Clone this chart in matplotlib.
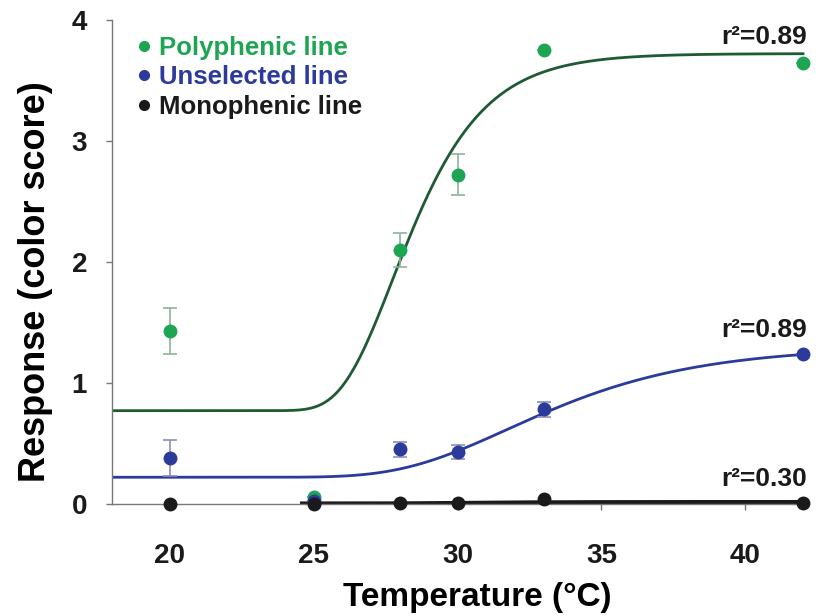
import numpy as np
import matplotlib
matplotlib.use("Agg")
import matplotlib.pyplot as plt
from matplotlib.lines import Line2D

plt.rcParams['font.family'] = ['Liberation Sans', 'DejaVu Sans']
plt.rcParams['font.weight'] = 'bold'

# measured points
temps = [20, 25, 28, 30, 33, 42]
poly = [1.43, 0.06, 2.10, 2.72, 3.75, 3.64]
poly_err = [0.19, 0.0, 0.14, 0.17, 0.0, 0.0]
unsel = [0.38, 0.02, 0.45, 0.43, 0.78, 1.24]
unsel_err = [0.15, 0.0, 0.06, 0.06, 0.06, 0.0]
mono = [0.0, 0.0, 0.01, 0.01, 0.04, 0.01]

# fitted curves (gompertz: base, amplitude, x0, k)
poly_fit = [0.77, 2.95, 27.75, 1.78]
unsel_fit = [0.22, 1.08, 31.75, 3.7]
mono_fit = [0.003, 0.012, 30.0, 2.0]
r2_labels = ['r²=0.89', 'r²=0.89', 'r²=0.30']
r2_offsets = [0.04, 0.1, 0.09]

green = '#1ea553'
green_line = '#1f5a35'
blue = '#2c3a9c'
black = '#1a1a1a'


def gompertz(x, p):
    a, b, x0, k = p
    return a + b * np.exp(-np.exp(-(x - x0) / k))


fig = plt.figure(figsize=(8.24, 6.16), dpi=100)
ax = fig.add_axes([0.136, 0.182, 0.842, 0.786])

xs = np.linspace(18, 42, 400)
xs2 = np.linspace(24.6, 42, 300)
ax.plot(xs, gompertz(xs, poly_fit), color=green_line, lw=2, zorder=2)
ax.plot(xs, gompertz(xs, unsel_fit), color=blue, lw=2, zorder=2)
ax.plot(xs2, gompertz(xs2, mono_fit), color=black, lw=3, zorder=2)

ax.errorbar(temps, poly, yerr=poly_err, fmt='o', color=green, ms=9,
            ecolor='#8fb49a', elinewidth=1.2, capsize=5, capthick=1.2,
            zorder=3, clip_on=False)
ax.errorbar(temps, unsel, yerr=unsel_err, fmt='o', color=blue, ms=9,
            ecolor='#8a8fb8', elinewidth=1.2, capsize=5, capthick=1.2,
            zorder=4, clip_on=False)
ax.plot(temps, mono, 'o', color=black, ms=9, zorder=5, clip_on=False)

# r2 labels at right end of each curve
for p, lab, off in zip([poly_fit, unsel_fit, mono_fit], r2_labels, r2_offsets):
    ax.text(42.15, gompertz(42, p) + off, lab, ha='right', va='bottom',
            fontsize=19, fontweight='bold', color=black)

ax.set_xlim(18, 42.1)
ax.set_ylim(0, 4)
ax.set_xticks([20, 25, 30, 35, 40])
ax.set_yticks([0, 1, 2, 3, 4])
for s in ['top', 'right']:
    ax.spines[s].set_visible(False)
for s in ['left', 'bottom']:
    ax.spines[s].set_color('#777777')
    ax.spines[s].set_linewidth(1)
ax.tick_params(axis='both', colors='#777777', length=4, width=1,
               labelsize=20, labelcolor=black)
ax.tick_params(axis='x', pad=24)
ax.tick_params(axis='y', pad=14)
for t in ax.get_xticklabels() + ax.get_yticklabels():
    t.set_fontweight('bold')

ax.set_xlabel('Temperature (°C)', fontsize=24, fontweight='bold')
ax.set_ylabel('Response (color score)', fontsize=26, fontweight='bold')
ax.xaxis.set_label_coords(0.526, -0.162)
ax.yaxis.set_label_coords(-0.085, 0.46)

handles = [Line2D([], [], ls='', marker='o', color=c, ms=7)
           for c in [green, blue, black]]
leg = ax.legend(handles, ['Polyphenic line', 'Unselected line', 'Monophenic line'],
                loc='upper left', bbox_to_anchor=(-0.006, 1.015), frameon=False,
                handletextpad=0.1, handlelength=1.0, labelspacing=0.22,
                prop={'size': 18.5, 'weight': 'bold'})
for t, c in zip(leg.get_texts(), [green, blue, black]):
    t.set_color(c)

fig.savefig('out.png', dpi=100)
